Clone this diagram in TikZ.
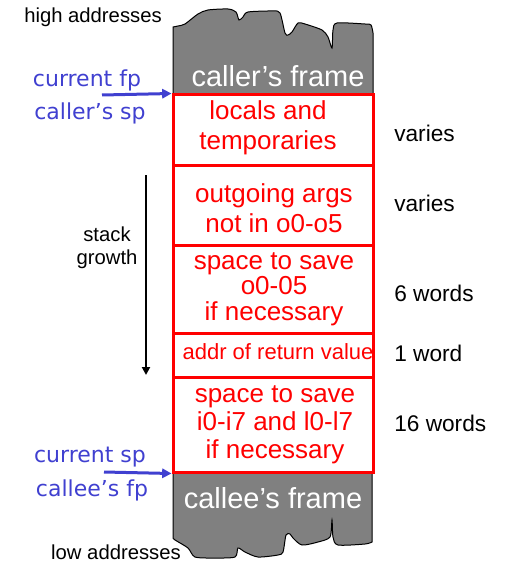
\documentclass[tikz,border=0pt]{standalone}
\usepackage{fontspec}
\setmainfont{Liberation Sans}
\newfontfamily\dvfont{DejaVu Sans}
\usetikzlibrary{arrows.meta}
\definecolor{redbox}{RGB}{255,0,0}
\definecolor{lblue}{RGB}{64,64,208}
\definecolor{frgrey}{RGB}{128,128,128}
\begin{document}
\begin{tikzpicture}[x=0.75pt,y=-0.75pt,
  frame/.style={fill=frgrey, draw=black, line width=0.75pt},
  frametext/.style={text=white, font=\fontsize{21.75}{24}\selectfont, inner sep=0pt},
  stackbox/.style={draw=redbox, fill=white, line width=2.25pt, minimum width=150pt, inner sep=0pt},
  stacktext/.style={inner sep=0pt, align=center, text=redbox, font=\fontsize{19.5}{22.5}\selectfont},
  side/.style={font=\fontsize{17}{20}\selectfont, anchor=west, inner sep=0pt},
  note/.style={font=\fontsize{15.2}{17}\selectfont, inner sep=0pt, align=center},
  ptr/.style={text=lblue, font=\dvfont\fontsize{16.5}{20}\selectfont, inner sep=0pt},
  ptrarrow/.style={draw=lblue, line width=2.25pt, -{Triangle[length=7pt,width=7pt]}},
  growarrow/.style={line width=1.5pt, -{Triangle[length=6pt,width=6pt]}}
]
\useasboundingbox (0,0) rectangle (508,563);

% caller's frame (jagged top)
\path[frame] (173,95) -- (173,30) -- plot[smooth, tension=0.45] coordinates {(173,27) (178,26) (185,24) (198,14) (208,10) (228,9) (236,12) (239,20) (243,17) (248,12) (273,11) (280,13) (285,33) (288,35) (292,32) (298,23) (305,24) (322,30) (328,37) (332,48) (333,30) (337,23) (365,24) (371,25) (373,33)} -- (373,95) -- cycle;
\node[frametext] (callerlbl) at (278,76) {caller’s frame};

% callee's frame (jagged bottom)
\path[frame] (173,472) -- (173,536) -- plot[smooth, tension=0.45] coordinates {(173,538) (175,540) (188,548) (195,557) (215,558) (235,557) (238,548) (245,552) (258,557) (278,555) (283,552) (286,535) (290,534) (293,538) (302,545) (318,542) (330,537) (332,520) (333,537) (338,545) (365,544) (372,542)} -- (372,472) -- cycle;
\node[frametext] (calleelbl) at (273,498) {callee’s frame};

% stack boxes
\node[stackbox, minimum height=52.5pt] (b1) at (273,130) {};
\node[stackbox, minimum height=60pt] (b2) at (273,205) {};
\node[stackbox, minimum height=66pt] (b3) at (273,289) {};
\node[stackbox, minimum height=33pt] (b4) at (273,355) {};
\node[stackbox, minimum height=71.25pt] (b5) at (273,424.5) {};

\node[stacktext] (t1) at (268,128) {locals and\\temporaries};
\node[stacktext] (t2) at (274,208) {outgoing args\\ not in o0-o5};
\node[stacktext, font=\fontsize{19.5}{19.2}\selectfont] (t3) at (274,289) {space to save\\o0-05\\if necessary};
\node[stacktext, font=\fontsize{16.5}{19}\selectfont] (t4) at (278,352) {addr of return value};
\node[stacktext, font=\fontsize{19.5}{21}\selectfont] (t5) at (275,425) {space to save\\i0-i7 and l0-l7\\if necessary};

% sizes
\node[side] (s1) at (394,133) {varies};
\node[side] (s2) at (394,203) {varies};
\node[side] (s3) at (394,293) {6 words};
\node[side] (s4) at (394,353) {1 word};
\node[side] (s5) at (394,423) {16 words};

% address labels
\node[note] (high) at (93,17) {high addresses};
\node[note] (low) at (116,552) {low addresses};
\node[note] (growth) at (107,248) {stack\\growth};

% pointer labels
\node[ptr] (curfp) at (87,80) {current fp};
\node[ptr] (callersp) at (90,113) {caller’s sp};
\node[ptr] (cursp) at (90,457) {current sp};
\node[ptr] (calleefp) at (92,490) {callee’s fp};

% arrows
\coordinate (fptail) at (102,95);
\coordinate (sptail) at (104,472);
\draw[ptrarrow] (fptail) -- (b1.north west);
\draw[ptrarrow] (sptail) -- (b5.south west);
\coordinate (gtop) at (146,175);
\coordinate (gbot) at (146,375);
\draw[growarrow] (gtop) -- (gbot);
\end{tikzpicture}
\end{document}
